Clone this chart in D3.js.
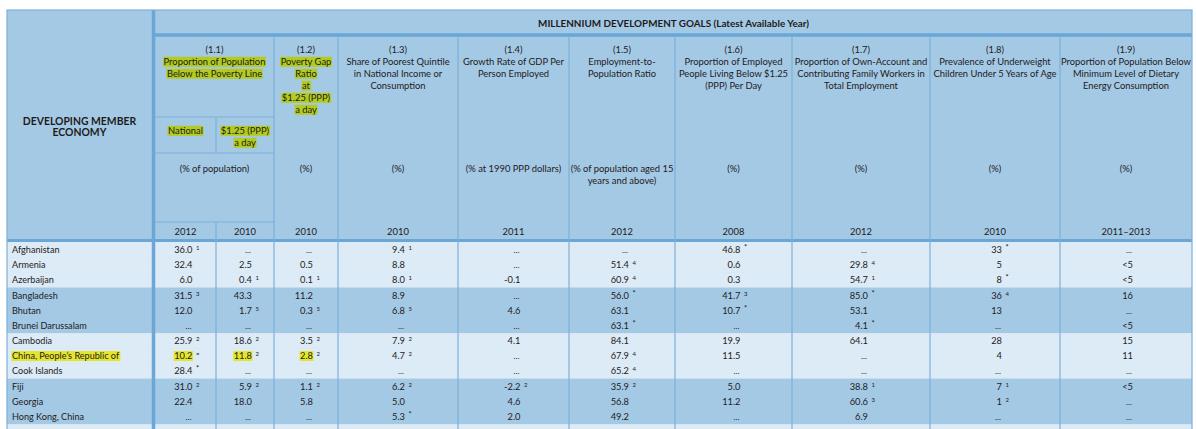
<!DOCTYPE html>
<html><head><meta charset="utf-8">
<script src="https://cdn.jsdelivr.net/npm/d3@7/dist/d3.min.js"></script>
<style>
html,body{margin:0;padding:0;background:#fff;}
svg{display:block;font-family:Lato,"Noto Sans",sans-serif;}
</style></head>
<body><svg id="c" width="1196" height="429"></svg>
<script>
// ---------- DATA ----------
const title = "MILLENNIUM DEVELOPMENT GOALS (Latest Available Year)";
const stubTitle = ["DEVELOPING MEMBER", "ECONOMY"];
const countries = ["Afghanistan","Armenia","Azerbaijan","Bangladesh","Bhutan","Brunei Darussalam","Cambodia","China, People\u2019s Republic of","Cook Islands","Fiji","Georgia","Hong Kong, China"];
const highlightedCountry = "China, People\u2019s Republic of";

const indicatorIds = ["(1.1)","(1.2)","(1.3)","(1.4)","(1.5)","(1.6)","(1.7)","(1.8)","(1.9)"];
const indicatorNames = [
  ["Proportion of Population","Below the Poverty Line"],
  ["Poverty Gap","Ratio","at","$1.25 (PPP)","a day"],
  ["Share of Poorest Quintile","in National Income or","Consumption"],
  ["Growth Rate of GDP Per","Person Employed"],
  ["Employment-to-","Population Ratio"],
  ["Proportion of Employed","People Living Below $1.25","(PPP) Per Day"],
  ["Proportion of Own-Account and","Contributing Family Workers in","Total Employment"],
  ["Prevalence of Underweight","Children Under 5 Years of Age"],
  ["Proportion of Population Below","Minimum Level of Dietary","Energy Consumption"]
];
const highlightedIndicators = ["(1.1)","(1.2)"];
const subHeaders = [["National"],["$1.25 (PPP)","a day"]];
const units = [["(% of population)"],["(%)"],["(%)"],["(% at 1990 PPP dollars)"],["(% of population aged 15","years and above)"],["(%)"],["(%)"],["(%)"],["(%)"]];
const years = ["2012","2010","2010","2010","2011","2012","2008","2012","2010","2011\u20132013"];

// values per data column (10 columns), with footnote marks
const nationalValues = ["36.0","32.4","6.0","31.5","12.0","...","25.9","10.2","28.4","31.0","22.4","..."];
const nationalNotes  = ["1","","","3","","","2","\u00a4","*","2","",""];
const ppp125Values   = ["...","2.5","0.4","43.3","1.7","...","18.6","11.8","...","5.9","18.0","..."];
const ppp125Notes    = ["","","1","","5","","2","2","","2","",""];
const povGapValues   = ["...","0.5","0.1","11.2","0.3","...","3.5","2.8","...","1.1","5.8","..."];
const povGapNotes    = ["","","1","","5","","2","2","","2","",""];
const quintileValues = ["9.4","8.8","8.0","8.9","6.8","...","7.9","4.7","...","6.2","5.0","5.3"];
const quintileNotes  = ["1","","1","","5","","2","2","","2","","*"];
const gdpGrowthValues= ["...","...","-0.1","...","4.6","...","4.1","...","...","-2.2","4.6","2.0"];
const gdpGrowthNotes = ["","","","","","","","","","2","",""];
const empRatioValues = ["...","51.4","60.9","56.0","63.1","63.1","84.1","67.9","65.2","35.9","56.8","49.2"];
const empRatioNotes  = ["","4","4","*","","*","","4","4","2","",""];
const empPoorValues  = ["46.8","0.6","0.3","41.7","10.7","...","19.9","11.5","...","5.0","11.2","..."];
const empPoorNotes   = ["*","","","3","*","","","","","","",""];
const ownAccValues   = ["...","29.8","54.7","85.0","53.1","4.1","64.1","...","...","38.8","60.6","6.9"];
const ownAccNotes    = ["","4","1","*","","*","","","","1","3",""];
const underwtValues  = ["33","5","8","36","13","...","28","4","...","7","1","..."];
const underwtNotes   = ["*","","*","4","","","","","","1","2",""];
const dietaryValues  = ["...","<5","<5","16","...","<5","15","11","...","<5","...","..."];
const dietaryNotes   = ["","","","","","","","","","","",""];
const highlightedCells = [[7,0],[7,1],[7,2]]; // [row, column]

// ---------- LAYOUT ----------
const svg = d3.select("#c");
const C = {hdr:"#a4c9e5", light:"#dcebf6", dark:"#a4c9e5", line:"#7cb1da", thick:"#6aa6d6", text:"#1f1b1c", hl:"#b3cb1f", hlData:"#e4e62c"};
const L = 7, R = 1192, T = 10, stubR = 152;
const edges = [155,216,274,338,458,569,675,792,930,1060,R];
const groupEdges = [0,2,3,4,5,6,7,8,9,10];
const dataTop = 242, rowH = 15.18;

const columns = [
  [nationalValues,nationalNotes],[ppp125Values,ppp125Notes],[povGapValues,povGapNotes],
  [quintileValues,quintileNotes],[gdpGrowthValues,gdpGrowthNotes],[empRatioValues,empRatioNotes],
  [empPoorValues,empPoorNotes],[ownAccValues,ownAccNotes],[underwtValues,underwtNotes],[dietaryValues,dietaryNotes]
];

const y = d3.scaleBand().domain(countries).range([dataTop, dataTop + rowH*countries.length]);
const colCenter = i => (edges[i]+edges[i+1])/2;

// background
svg.append("rect").attr("x",L).attr("y",T).attr("width",R-L).attr("height",429-T).attr("fill",C.hdr);

// data rows backgrounds (groups of three)
svg.append("g").selectAll("rect").data(countries).join("rect")
  .attr("x",L).attr("width",R-L)
  .attr("y",d=>y(d)).attr("height",y.bandwidth()+0.5)
  .attr("fill",(d,i)=>Math.floor(i/3)%2===0?C.light:C.dark);
const lastY = y(countries[countries.length-1]) + y.bandwidth();
svg.append("rect").attr("x",L).attr("y",lastY).attr("width",R-L).attr("height",429-lastY).attr("fill",C.light);

// lines
const lines = svg.append("g");
function ln(x1,y1,x2,y2,col,w){lines.append("line").attr("x1",x1).attr("y1",y1).attr("x2",x2).attr("y2",y2).attr("stroke",col).attr("stroke-width",w);}
ln(stubR+1.5,T,stubR+1.5,429,C.thick,3.5);
ln(stubR,35,R,35,C.thick,3.5);
ln(L,dataTop-1.5,R,dataTop-1.5,C.thick,3);
for(let i=2;i<edges.length-1;i++) ln(edges[i],37,edges[i],429,C.line,1.2);
ln(edges[1],117,edges[1],153,C.line,1.2);
ln(edges[1],222,edges[1],429,C.line,1.2);
[117,153,222].forEach(yy=>ln(edges[0],yy,edges[2],yy,C.line,1.2));
lines.append("rect").attr("x",L).attr("y",T).attr("width",R-L).attr("height",429-T+2).attr("fill","none").attr("stroke",C.line).attr("stroke-width",1.2);

const txt = svg.append("g").attr("fill",C.text);
const hlLayer = svg.insert("g", () => txt.node());
function text(x,yy,s,opts={}){
  const t = txt.append("text").attr("x",x).attr("y",yy).text(s)
    .attr("font-size",opts.size||9).attr("text-anchor",opts.anchor||"middle")
    .attr("font-weight",opts.bold?"bold":"normal");
  if(opts.hl){
    const b=t.node().getBBox();
    hlLayer.append("rect").attr("x",b.x-0.5).attr("y",b.y+0.8).attr("width",b.width+1).attr("height",b.height-1).attr("fill",opts.hl);
  }
  return t;
}

// title
text((edges[0]+R)/2, 26.5, title, {bold:true, size:9.9});
// stub title
stubTitle.forEach((s,i)=>text((L+stubR)/2, 124.5+i*11.5, s, {bold:true,size:10.4}));

// indicator headers
const HS = 9.4;
indicatorIds.forEach((id,i)=>{
  const cx = (edges[groupEdges[i]]+edges[groupEdges[i+1]])/2;
  const hl = highlightedIndicators.includes(id);
  text(cx, 53, id, {size:HS});
  indicatorNames[i].forEach((s,j)=>text(cx, 65+j*12, s, {size:HS, hl: hl?C.hl:null}));
  units[i].forEach((s,j)=>text(cx, 171.5+j*12, s, {size:HS}));
});
subHeaders.forEach((lns,i)=>lns.forEach((s,j)=>text(colCenter(i), 134+j*12, s, {size:HS, hl:C.hl})));
years.forEach((s,i)=>text(colCenter(i), 234.5, s, {size:HS}));

// country names
countries.forEach(c=>text(12, y(c)+y.bandwidth()/2+3.4, c, {anchor:"start", size:9.1, hl: c===highlightedCountry?C.hlData:null}));

// values
columns.forEach(([vals,notes],ci)=>{
  const xr = colCenter(ci)+7;
  vals.forEach((v,ri)=>{
    const yy = y(countries[ri])+y.bandwidth()/2+3.4;
    const isHl = highlightedCells.some(([r,c])=>r===ri&&c===ci);
    text(v==="..."?xr-1:xr, yy, v, {anchor:"end", size:v==="..."?8.4:9.3, hl:isHl?C.hlData:null});
    if(notes[ri]) text(xr+3.5, yy-3, notes[ri], {anchor:"start", size:notes[ri]==="*"?7.5:6});
  });
});
</script></body></html>
